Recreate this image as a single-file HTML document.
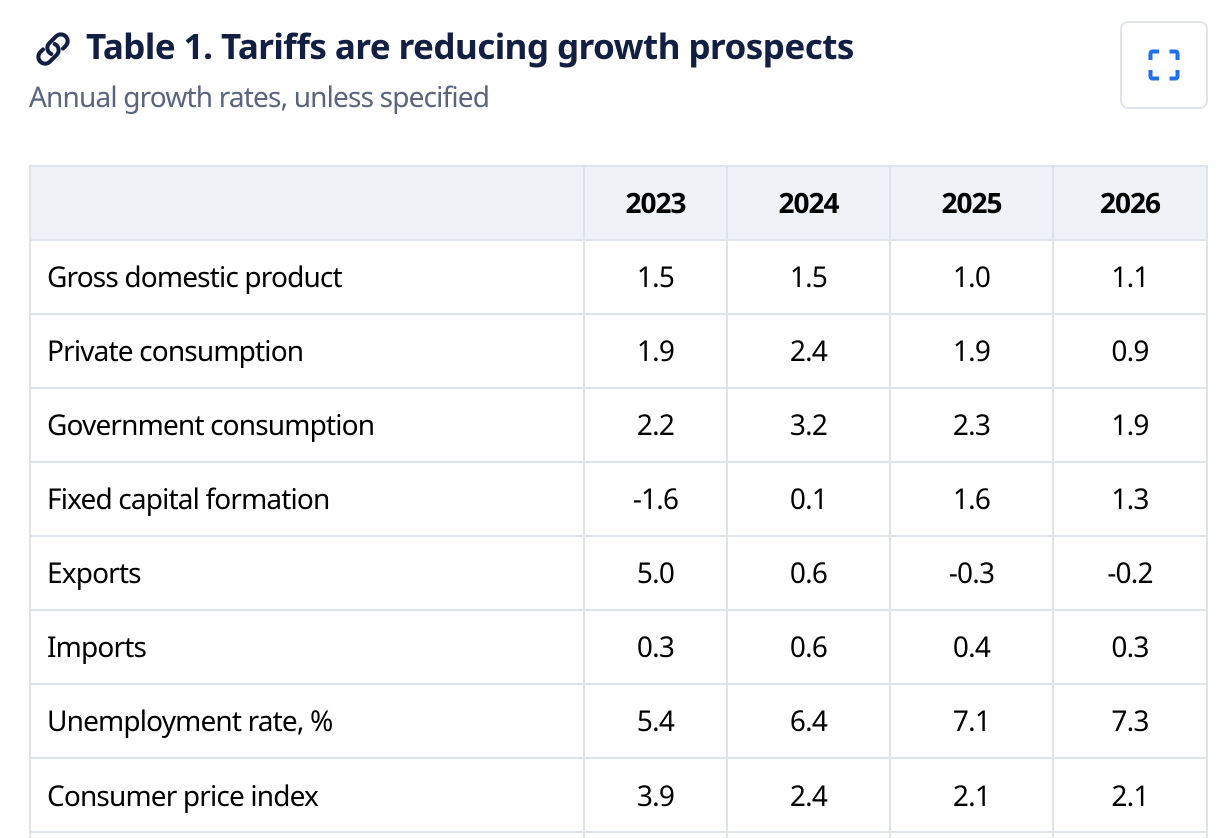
<!DOCTYPE html>
<html lang="en">
<head>
<meta charset="utf-8">
<title>Table 1. Tariffs are reducing growth prospects</title>
<style>
html,body{margin:0;padding:0;background:#fff;width:1228px;height:838px;overflow:hidden;}
#page{position:relative;width:1228px;height:838px;overflow:hidden;font-family:"Noto Sans","Noto Sans CJK JP","DejaVu Sans",sans-serif;color:#000;}
#title{position:absolute;left:86px;top:24px;margin:0;font-size:35px;line-height:46px;font-weight:700;color:#121f42;white-space:nowrap;letter-spacing:-0.54px;}
#subtitle{position:absolute;left:29px;top:78px;margin:0;font-size:28px;line-height:38px;color:#5a6380;white-space:nowrap;letter-spacing:-0.83px;}
#link{position:absolute;left:35px;top:31px;}
#fs{position:absolute;left:1120px;top:21px;width:88px;height:88px;box-sizing:border-box;border:2px solid #e1e5eb;border-radius:8px;background:#fff;padding:0;}
#fs svg{position:absolute;left:26px;top:26px;}
table{position:absolute;left:29px;top:165px;width:1179px;border-collapse:collapse;table-layout:fixed;}
td,th{border:2px solid #dfe3ea;height:72px;padding:0;text-align:center;font-size:28px;line-height:36px;white-space:nowrap;letter-spacing:-0.8px;}
th{background:#eff2f7;font-weight:700;color:#000;letter-spacing:-1px;}
td:first-child{text-align:left;padding-left:16px;letter-spacing:-0.84px;}
tr.low td{height:70px;padding-top:2px;}
tr.stub td{height:5px;line-height:5px;font-size:1px;border-bottom:none;}
</style>
</head>
<body>
<div id="page">
<svg id="link" width="36" height="36" viewBox="0 0 24 24" fill="none" stroke="#121f42" stroke-width="2.700" stroke-linecap="round" stroke-linejoin="round"><path d="M13.190 8.688a4.500 4.500 0 0 1 1.242 7.244l-4.500 4.500a4.500 4.500 0 0 1-6.364-6.364l1.757-1.757m13.350-.622 1.757-1.757a4.500 4.500 0 0 0-6.364-6.364l-4.500 4.500a4.500 4.500 0 0 0 1.242 7.244"/></svg>
<h1 id="title">Table 1. Tariffs are reducing growth prospects</h1>
<p id="subtitle">Annual growth rates, unless specified</p>
<button id="fs"><svg width="32" height="32" viewBox="0 0 32 32" fill="none" stroke="#1f6ff2" stroke-width="4" stroke-linecap="butt" stroke-linejoin="round"><path d="M2.500 11V4.500a2 2 0 0 1 2-2H11"/><path d="M21.500 2.500h6a2 2 0 0 1 2 2V11"/><path d="M29.500 21v6.500a2 2 0 0 1-2 2H21.500"/><path d="M11 29.500H4.500a2 2 0 0 1-2-2V21"/></svg></button>
<table>
<colgroup><col style="width:554px"><col style="width:143px"><col style="width:163px"><col style="width:163px"><col style="width:154px"></colgroup>
<thead>
<tr><th></th><th>2023</th><th>2024</th><th>2025</th><th>2026</th></tr>
</thead>
<tbody>
<tr><td>Gross domestic product</td><td>1.5</td><td>1.5</td><td>1.0</td><td>1.1</td></tr>
<tr><td>Private consumption</td><td>1.9</td><td>2.4</td><td>1.9</td><td>0.9</td></tr>
<tr><td>Government consumption</td><td>2.2</td><td>3.2</td><td>2.3</td><td>1.9</td></tr>
<tr><td>Fixed capital formation</td><td>-1.6</td><td>0.1</td><td>1.6</td><td>1.3</td></tr>
<tr><td>Exports</td><td>5.0</td><td>0.6</td><td>-0.3</td><td>-0.2</td></tr>
<tr><td>Imports</td><td>0.3</td><td>0.6</td><td>0.4</td><td>0.3</td></tr>
<tr><td>Unemployment rate, %</td><td>5.4</td><td>6.4</td><td>7.1</td><td>7.3</td></tr>
<tr class="low"><td>Consumer price index</td><td>3.9</td><td>2.4</td><td>2.1</td><td>2.1</td></tr>
<tr class="stub"><td></td><td></td><td></td><td></td><td></td></tr>
</tbody>
</table>
</div>
</body>
</html>
